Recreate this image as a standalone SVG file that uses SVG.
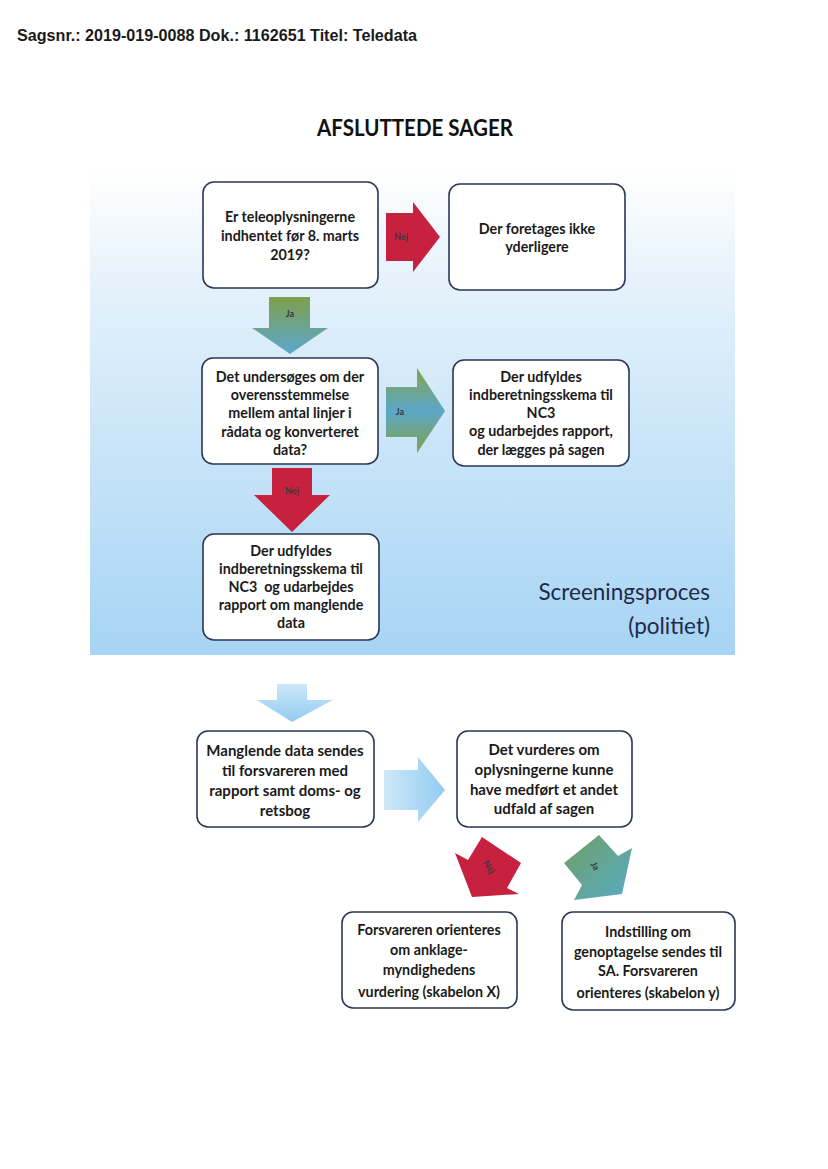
<svg xmlns="http://www.w3.org/2000/svg" width="828" height="1169" viewBox="0 0 828 1169">
<defs>
<linearGradient id="bg" x1="0" y1="0" x2="0" y2="1">
<stop offset="0" stop-color="#ffffff"/>
<stop offset="0.25" stop-color="#e3f1fb"/>
<stop offset="1" stop-color="#a6d4f4"/>
</linearGradient>
<linearGradient id="gbV" x1="0" y1="0" x2="0" y2="1">
<stop offset="0" stop-color="#7f9f4c"/>
<stop offset="1" stop-color="#5ba8cf"/>
</linearGradient>
<linearGradient id="gbH" x1="0" y1="0" x2="0" y2="1">
<stop offset="0" stop-color="#86a349"/>
<stop offset="0.5" stop-color="#5ca7c9"/>
<stop offset="1" stop-color="#7fa24c"/>
</linearGradient>
<linearGradient id="gbD" x1="0" y1="0" x2="1" y2="1">
<stop offset="0" stop-color="#6f9f62"/>
<stop offset="1" stop-color="#57abc9"/>
</linearGradient>
<linearGradient id="lbV" x1="0" y1="0" x2="0" y2="1">
<stop offset="0" stop-color="#cce7f9"/>
<stop offset="1" stop-color="#92cbf1"/>
</linearGradient>
<linearGradient id="lbH" x1="0" y1="0" x2="1" y2="0">
<stop offset="0" stop-color="#cfe8f9"/>
<stop offset="1" stop-color="#92cbf1"/>
</linearGradient>
</defs>
<style>
.box{fill:#ffffff;stroke:#2b3657;stroke-width:1.6}
.t{font-family:Lato,"Open Sans",sans-serif;font-weight:bold;font-size:14.3px;fill:#1a1a1a;text-anchor:middle}
.t2{font-family:Lato,"Open Sans",sans-serif;font-weight:bold;font-size:15px;fill:#1a1a1a;text-anchor:middle}
.lbl{font-family:Lato,"Open Sans",sans-serif;font-weight:bold;font-size:9px;fill:#3a3a3a;text-anchor:middle}
.red{fill:#c8203f}
</style>
<rect width="828" height="1169" fill="#ffffff"/>
<text x="17" y="41" font-family="'Liberation Sans',Arial,sans-serif" font-weight="bold" font-size="17" fill="#1a1a1a" textLength="400" lengthAdjust="spacingAndGlyphs">Sagsnr.: 2019-019-0088 Dok.: 1162651 Titel: Teledata</text>
<text x="317" y="136" font-family="Lato,'Open Sans',sans-serif" font-weight="bold" font-size="22" fill="#111" textLength="196" lengthAdjust="spacingAndGlyphs">AFSLUTTEDE SAGER</text>
<rect id="background" x="90" y="170" width="645" height="485" fill="url(#bg)"/>
<g id="screening-label" font-family="Lato,'Open Sans',sans-serif" font-size="22.5" fill="#1f2a47" text-anchor="end">
<text x="710" y="600">Screeningsproces</text>
<text x="710" y="634">(politiet)</text>
</g>
<g id="connectors">
<g id="arrow-nej-1"><polygon class="red" points="386,213 413,213 413,202 440,237 413,272 413,261 386,261"/><text class="lbl" x="401" y="240">Nej</text></g>
<g id="arrow-ja-1"><polygon fill="url(#gbV)" points="269,297 310,297 310,328 328,328 290,354 252,328 269,328"/><text class="lbl" x="290" y="317">Ja</text></g>
<g id="arrow-ja-2"><polygon fill="url(#gbH)" points="386,387 417,387 417,368 445,411 417,453 417,437 386,437"/><text class="lbl" x="400" y="415">Ja</text></g>
<g id="arrow-nej-2"><polygon class="red" points="272,468 312,468 312,495 330,495 292,532 254,495 272,495"/><text class="lbl" x="292" y="494">Nej</text></g>
<g id="arrow-down-light"><polygon fill="url(#lbV)" points="277,684 307,684 307,700 333,700 292,722 257,700 277,700"/></g>
<g id="arrow-right-light"><polygon fill="url(#lbH)" points="384,770 418,770 418,757 445,790 418,822 418,810 384,810"/></g>
<g id="arrow-nej-3"><polygon class="red" points="482,837 521,863 507,888 519,894 472,897 455,853 468,860"/><text class="lbl" transform="translate(489,867) rotate(58)" x="0" y="3">Nej</text></g>
<g id="arrow-ja-3"><polygon fill="url(#gbD)" points="599,835 618,856 632,848 622,894 574,900 582,885 564,863"/><text class="lbl" transform="translate(595,866) rotate(60)" x="0" y="3">Ja</text></g>
</g>
<g id="node-a"><rect class="box" x="203" y="182" width="175" height="106" rx="11"/>
<text class="t" x="290" y="222">Er teleoplysningerne</text><text class="t" x="290" y="241">indhentet før 8. marts</text><text class="t" x="290" y="260">2019?</text></g>
<g id="node-b"><rect class="box" x="449" y="184" width="176" height="106" rx="11"/>
<text class="t" x="537" y="234">Der foretages ikke</text><text class="t" x="537" y="252">yderligere</text></g>
<g id="node-c"><rect class="box" x="202" y="358" width="176" height="106" rx="11"/>
<text class="t" x="290" y="382">Det undersøges om der</text><text class="t" x="290" y="400">overensstemmelse</text><text class="t" x="290" y="418">mellem antal linjer i</text><text class="t" x="290" y="437">rådata og konverteret</text><text class="t" x="290" y="455">data?</text></g>
<g id="node-d"><rect class="box" x="453" y="360" width="176" height="106" rx="11"/>
<text class="t" x="541" y="382">Der udfyldes</text><text class="t" x="541" y="400">indberetningsskema til</text><text class="t" x="541" y="418">NC3</text><text class="t" x="541" y="436">og udarbejdes rapport,</text><text class="t" x="541" y="455">der lægges på sagen</text></g>
<g id="node-e"><rect class="box" x="203" y="534" width="176" height="106" rx="11"/>
<text class="t" x="291" y="556">Der udfyldes</text><text class="t" x="291" y="574">indberetningsskema til</text><text class="t" x="291" y="592" xml:space="preserve">NC3  og udarbejdes</text><text class="t" x="291" y="610">rapport om manglende</text><text class="t" x="291" y="628">data</text></g>
<g id="node-f"><rect class="box" x="197" y="731" width="177" height="96" rx="11"/>
<text class="t2" x="285" y="756">Manglende data sendes</text><text class="t2" x="285" y="776">til forsvareren med</text><text class="t2" x="285" y="796">rapport samt doms- og</text><text class="t2" x="285" y="816">retsbog</text></g>
<g id="node-g"><rect class="box" x="457" y="731" width="175" height="96" rx="11"/>
<text class="t2" x="544" y="755">Det vurderes om</text><text class="t2" x="544" y="775">oplysningerne kunne</text><text class="t2" x="544" y="795">have medført et andet</text><text class="t2" x="544" y="814">udfald af sagen</text></g>
<g id="node-h"><rect class="box" x="342" y="912" width="175" height="96" rx="11"/>
<text class="t" x="429" y="935">Forsvareren orienteres</text><text class="t" x="429" y="955">om anklage-</text><text class="t" x="429" y="975">myndighedens</text><text class="t" x="429" y="997">vurdering (skabelon X)</text></g>
<g id="node-i"><rect class="box" x="562" y="912" width="173" height="98" rx="11"/>
<text class="t" x="648" y="937">Indstilling om</text><text class="t" x="648" y="957">genoptagelse sendes til</text><text class="t" x="648" y="976">SA. Forsvareren</text><text class="t" x="648" y="998">orienteres (skabelon y)</text></g>
</svg>
